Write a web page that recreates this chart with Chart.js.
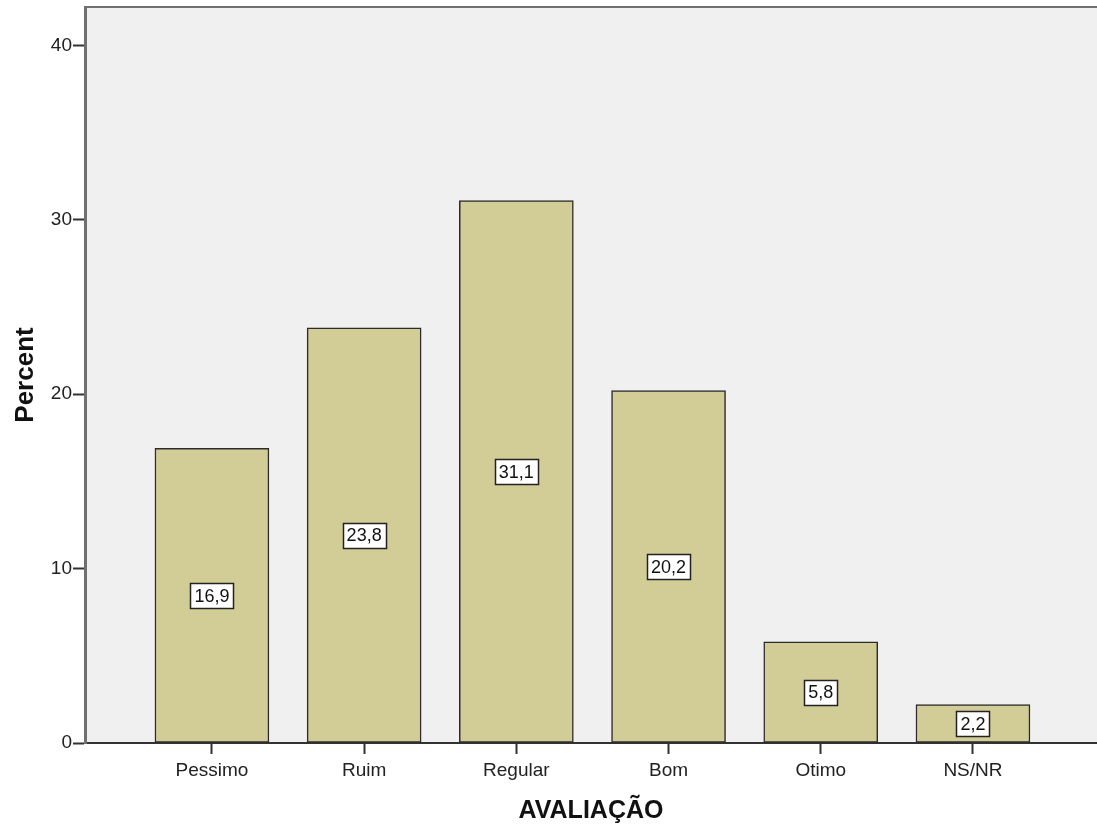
<!DOCTYPE html>
<html>
<head>
<meta charset="utf-8">
<script src="https://cdn.jsdelivr.net/npm/chart.js@4.4.0/dist/chart.umd.min.js"></script>
<style>
  html, body { margin: 0; padding: 0; background: #fff; }
  #wrap { width: 1097px; height: 827px; }
</style>
</head>
<body>
<div id="wrap"><canvas id="grafico"></canvas></div>
<script>
// Datos
const categorias = ['Pessimo', 'Ruim', 'Regular', 'Bom', 'Otimo', 'NS/NR'];
const porcentajes = [16.9, 23.8, 31.1, 20.2, 5.8, 2.2];
const ticksY = [0, 10, 20, 30, 40];

const puntos = porcentajes.map((v, i) => ({ x: i, y: v }));
const fuente = '"Liberation Sans", Arial, sans-serif';

// Fondo gris del área y borde superior
const fondoPlugin = {
    id: 'fondo',
    beforeDraw(chart) {
        const { ctx, chartArea: a } = chart;
        ctx.save();
        ctx.fillStyle = '#f0f0f0';
        ctx.fillRect(a.left, a.top, a.right - a.left, a.bottom - a.top);
        ctx.strokeStyle = '#707070';
        ctx.lineWidth = 2;
        ctx.beginPath();
        ctx.moveTo(a.left, a.top);
        ctx.lineTo(a.right, a.top);
        ctx.stroke();
        ctx.restore();
    }
};

// Etiquetas con el valor en cajas blancas
const etiquetasPlugin = {
    id: 'etiquetas',
    afterDatasetsDraw(chart) {
        const { ctx } = chart;
        const meta = chart.getDatasetMeta(0);
        const y = chart.scales.y;
        ctx.save();
        ctx.font = '18px ' + fuente;
        ctx.textAlign = 'center';
        ctx.textBaseline = 'middle';
        meta.data.forEach((bar, i) => {
            const v = porcentajes[i];
            const texto = v.toFixed(1).replace('.', ',');
            const cy = y.getPixelForValue(v / 2);
            const w = Math.round(ctx.measureText(texto).width + 8);
            const h = 25;
            const x0 = Math.round(bar.x - w / 2);
            const y0 = Math.round(cy - h / 2);
            ctx.fillStyle = '#ffffff';
            ctx.fillRect(x0, y0, w, h);
            ctx.strokeStyle = '#222';
            ctx.lineWidth = 1.5;
            ctx.strokeRect(x0 + 0.5, y0 + 0.5, w, h);
            ctx.fillStyle = '#111';
            ctx.fillText(texto, bar.x, cy + 1);
        });
        ctx.restore();
    }
};

new Chart(document.getElementById('grafico'), {
    type: 'bar',
    data: {
        datasets: [{
            data: puntos,
            backgroundColor: 'rgb(210, 205, 150)',
            borderColor: '#2b2b2b',
            borderWidth: 1.5,
            borderSkipped: false,
            barThickness: 114
        }]
    },
    plugins: [fondoPlugin, etiquetasPlugin],
    options: {
        responsive: true,
        maintainAspectRatio: false,
        animation: false,
        layout: { padding: { top: 7, right: 0, left: 0, bottom: 0 } },
        plugins: {
            legend: { display: false },
            tooltip: { enabled: false }
        },
        scales: {
            x: {
                type: 'linear',
                offset: false,
                min: -0.834,
                max: 5.815,
                afterBuildTicks(axis) {
                    axis.ticks = categorias.map((c, i) => ({ value: i }));
                },
                afterFit(axis) {
                    axis.height = 84;
                    axis.paddingLeft = 0;
                    axis.paddingRight = 0;
                },
                ticks: {
                    autoSkip: false,
                    maxRotation: 0,
                    padding: 5,
                    color: '#222',
                    font: { family: fuente, size: 19 },
                    callback: (v) => categorias[v] ?? ''
                },
                grid: {
                    display: true,
                    offset: false,
                    drawOnChartArea: false,
                    drawTicks: true,
                    tickLength: 11,
                    tickWidth: 2,
                    color: '#333'
                },
                border: { display: true, color: '#333', width: 2 },
                title: {
                    display: true,
                    text: 'AVALIAÇÃO',
                    color: '#111',
                    font: { family: fuente, size: 25, weight: 'bold' },
                    padding: { top: 4, bottom: 1 }
                }
            },
            y: {
                min: 0,
                max: 42.2,
                afterBuildTicks(axis) {
                    axis.ticks = ticksY.map(v => ({ value: v }));
                },
                afterFit(axis) {
                    axis.width = 85;
                    axis.paddingTop = 0;
                    axis.paddingBottom = 0;
                },
                ticks: {
                    padding: 1,
                    color: '#222',
                    font: { family: fuente, size: 19 }
                },
                grid: {
                    display: true,
                    drawOnChartArea: false,
                    drawTicks: true,
                    tickLength: 12,
                    tickWidth: 2,
                    color: '#333'
                },
                border: { display: true, color: '#707070', width: 3 },
                title: {
                    display: true,
                    text: 'Percent',
                    color: '#111',
                    font: { family: fuente, size: 26, weight: 'bold' },
                    padding: { top: 10, bottom: 0 }
                }
            }
        }
    }
});
</script>
</body>
</html>
